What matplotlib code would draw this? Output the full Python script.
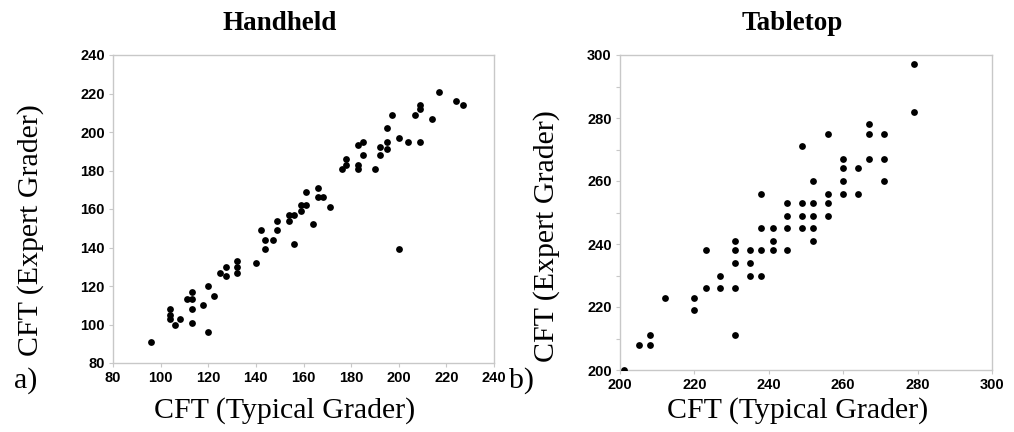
import matplotlib
matplotlib.use("Agg")
import matplotlib.pyplot as plt
from matplotlib.ticker import MultipleLocator

# Handheld data (typical grader, expert grader)
hand_x = [96, 104, 104, 104, 106, 108, 111, 113, 113, 113, 113, 118, 120, 120, 122.6,
          125, 127.5, 127.5, 132, 132, 132, 140, 142, 144, 144, 147, 149, 149, 154, 154,
          156, 156, 159, 159, 161, 161, 164, 166, 166, 168, 171, 176, 178, 178, 183, 183,
          183, 185, 185, 190, 192, 192, 195, 195, 195, 197, 200, 200, 204, 207, 209, 209,
          209, 214, 217, 224, 227]
hand_y = [91, 108, 105, 103, 100, 103, 113, 117, 113, 108, 101, 110, 120, 96, 115,
          127, 130, 125, 133, 130, 127, 132, 149, 144, 139, 144, 154, 149, 157, 154,
          157, 142, 162, 159, 162, 169, 152, 171, 166, 166, 161, 181, 186, 183, 193, 183,
          181, 195, 188, 181, 192, 188, 202, 195, 191, 209, 197, 139, 195, 209, 214, 212,
          195, 207, 221, 216, 214]

# Tabletop data
table_x = [201, 205, 208, 208, 212, 220, 220, 223, 223, 227, 227, 231, 231, 231, 231, 231,
           235, 235, 235, 238, 238, 238, 238, 241, 241, 241, 245, 245, 245, 245,
           249, 249, 249, 249, 252, 252, 252, 252, 252, 256, 256, 256, 256,
           260, 260, 260, 260, 264, 264, 267, 267, 267, 271, 271, 271, 279, 279]
table_y = [200, 208, 208, 211, 223, 223, 219, 238, 226, 230, 226, 241, 238, 234, 226, 211,
           238, 234, 230, 256, 245, 238, 230, 245, 241, 238, 253, 249, 245, 238,
           271, 253, 249, 245, 260, 253, 249, 245, 241, 275, 256, 253, 249,
           267, 264, 260, 256, 264, 256, 278, 275, 267, 275, 267, 260, 297, 282]

hand_ticks = [80, 100, 120, 140, 160, 180, 200, 220, 240]
table_ticks = [200, 220, 240, 260, 280, 300]

SERIF = ["Liberation Serif", "DejaVu Serif"]
SANS = ["Liberation Sans", "DejaVu Sans"]

W, H = 1014, 432
fig = plt.figure(figsize=(W / 100, H / 100), dpi=100)
ax1 = fig.add_axes([113 / W, 1 - 363 / H, 381 / W, 308 / H])
ax2 = fig.add_axes([620 / W, 1 - 370 / H, 372 / W, 315 / H])

spine_col = "#c8c8c8"

def style(ax, ticks, minor=None):
    ax.set_xlim(ticks[0], ticks[-1])
    ax.set_ylim(ticks[0], ticks[-1])
    ax.set_xticks(ticks)
    ax.set_yticks(ticks)
    if minor:
        ax.yaxis.set_minor_locator(MultipleLocator(minor))
        ax.tick_params(axis="y", which="minor", length=3, color=spine_col, width=0.8)
    for s in ax.spines.values():
        s.set_color(spine_col)
        s.set_linewidth(1.0)
    ax.tick_params(axis="both", which="major", length=3, color=spine_col, width=0.8,
                   labelsize=10.5, pad=3)
    for lab in ax.get_xticklabels() + ax.get_yticklabels():
        lab.set_fontweight("bold")
        lab.set_family(SANS)

ax1.scatter(hand_x, hand_y, s=24, color="black", zorder=3, linewidths=0)
ax2.scatter(table_x, table_y, s=24, color="black", zorder=3, linewidths=0)
style(ax1, hand_ticks)
style(ax2, table_ticks, minor=10)

LAB = 21.5
# titles
fig.text(280 / W, 1 - 23 / H, "Handheld", family=SERIF, fontsize=19.5,
         fontweight="bold", ha="center", va="center")
fig.text(792 / W, 1 - 23 / H, "Tabletop", family=SERIF, fontsize=19.5,
         fontweight="bold", ha="center", va="center")

# x labels
for ax, cx, left, width, bottom, height in [(ax1, 285, 113, 381, 363, 308),
                                            (ax2, 798, 620, 372, 370, 315)]:
    ax.set_xlabel("CFT (Typical Grader)", family=SERIF, fontsize=LAB)
    ax.xaxis.label.set_va("center")
    ax.xaxis.set_label_coords((cx - left) / width, (bottom - 411) / height)

# y labels
ax1.set_ylabel("CFT (Expert Grader)", family=SERIF, fontsize=LAB)
ax1.yaxis.label.set_va("center")
ax1.yaxis.set_label_coords((31 - 113) / 381, (363 - 230) / 308)
ax2.set_ylabel("CFT (Expert Grader)", family=SERIF, fontsize=LAB)
ax2.yaxis.label.set_va("center")
ax2.yaxis.set_label_coords((547 - 620) / 372, (370 - 236) / 315)

fig.text(14 / W, 1 - 381 / H, "a)", family=SERIF, fontsize=LAB, va="center")
fig.text(509 / W, 1 - 381 / H, "b)", family=SERIF, fontsize=LAB, va="center")

fig.savefig("out.png", dpi=100, facecolor="white")
